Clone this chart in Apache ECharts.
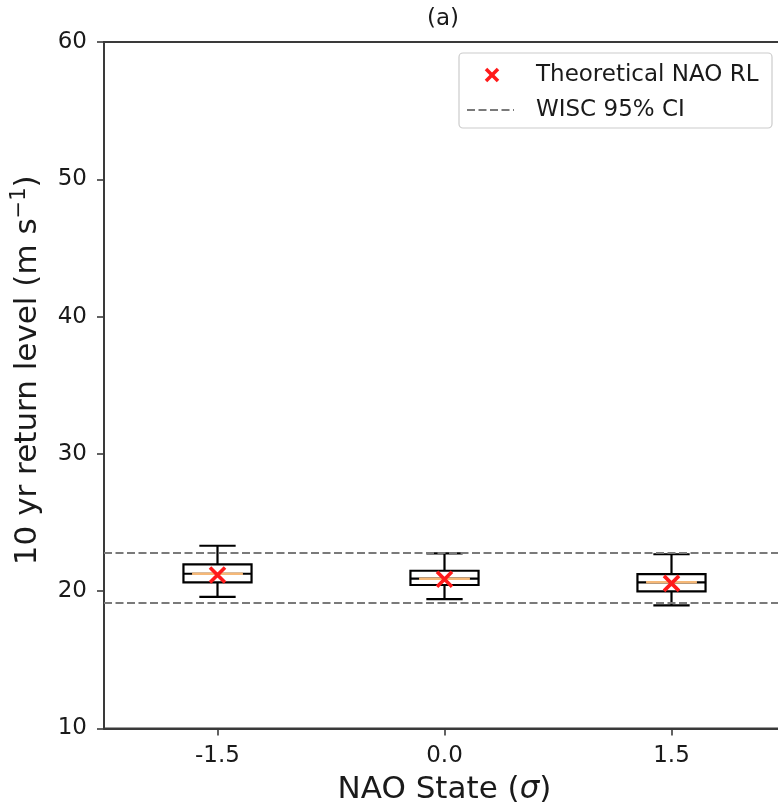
<!DOCTYPE html>
<html>
<head>
<meta charset="utf-8">
<script src="https://cdn.jsdelivr.net/npm/echarts@6/dist/echarts.min.js"></script>
<style>
  html, body { margin: 0; padding: 0; background: #fff; }
  #chart { width: 778px; height: 810px; }
</style>
</head>
<body>
<div id="chart"></div>
<script>
// NAO states on the x axis
const categories = ['-1.5', '0.0', '1.5'];

// Box-plot statistics of the 10 yr return level (m s^-1) per NAO state
const whiskerLow  = [19.58, 19.43, 18.97];
const quartile1   = [20.65, 20.45, 19.99];
const medians     = [21.27, 20.91, 20.65];
const quartile3   = [21.96, 21.49, 21.25];
const whiskerHigh = [23.31, 22.76, 22.69];

// Theoretical return level for each NAO state
const theoreticalRL = [21.18, 20.87, 20.57];

// WISC 95% confidence interval bounds
const wiscCI = [19.14, 22.78];

// Y axis ticks
const yTicks = [10, 20, 30, 40, 50, 60];

const FONT = 'DejaVu Sans';
const TEXT = '#1a1a1a';
const AXIS = '#3a3a3a';

const boxData = categories.map((c, i) => [i, whiskerLow[i], quartile1[i], medians[i], quartile3[i], whiskerHigh[i]]);

function renderBox(params, api) {
  const idx = api.value(0);
  const band = api.size([1, 0])[0];
  const cx = api.coord([idx, 0])[0];
  const yLow = api.coord([idx, api.value(1)])[1];
  const yQ1 = api.coord([idx, api.value(2)])[1];
  const yMed = api.coord([idx, api.value(3)])[1];
  const yQ3 = api.coord([idx, api.value(4)])[1];
  const yHigh = api.coord([idx, api.value(5)])[1];
  const bw = band * 0.30;
  const cw = band * 0.16;
  const stroke = { stroke: '#000', lineWidth: 2.2, fill: null };
  return {
    type: 'group',
    children: [
      { type: 'line', shape: { x1: cx, y1: yQ3, x2: cx, y2: yHigh }, style: stroke },
      { type: 'line', shape: { x1: cx, y1: yQ1, x2: cx, y2: yLow }, style: stroke },
      { type: 'line', shape: { x1: cx - cw / 2, y1: yHigh, x2: cx + cw / 2, y2: yHigh }, style: stroke },
      { type: 'line', shape: { x1: cx - cw / 2, y1: yLow, x2: cx + cw / 2, y2: yLow }, style: stroke },
      { type: 'rect', shape: { x: cx - bw / 2, y: yQ3, width: bw, height: yQ1 - yQ3 }, style: { stroke: '#000', lineWidth: 2.2, fill: 'rgba(255,255,255,0)' } },
      { type: 'line', shape: { x1: cx - bw / 2, y1: yMed, x2: cx + bw / 2, y2: yMed }, style: { stroke: '#000', lineWidth: 2.2 } },
      { type: 'line', shape: { x1: cx - cw * 0.7, y1: yMed, x2: cx + cw * 0.7, y2: yMed }, style: { stroke: '#f5b878', lineWidth: 2.4 } }
    ]
  };
}

const chart = echarts.init(document.getElementById('chart'), null, { renderer: 'canvas' });

const option = {
  animation: false,
  backgroundColor: '#fff',
  grid: {
    left: 104, top: 42, width: 681, height: 686.5,
    outerBoundsMode: 'none',
    containLabel: false,
    show: true, borderColor: AXIS, borderWidth: 2, backgroundColor: 'transparent'
  },
  xAxis: {
    type: 'category',
    data: categories,
    boundaryGap: true,
    axisLine: { show: true, lineStyle: { color: AXIS, width: 2 } },
    axisTick: { show: true, alignWithLabel: true, length: 7, lineStyle: { color: AXIS, width: 1.6 } },
    axisLabel: { fontFamily: FONT, fontSize: 23, color: TEXT, margin: 16 },
    splitLine: { show: false },
    name: '{t|NAO State (}{i|σ}{t|)}',
    nameLocation: 'middle',
    nameGap: 46,
    nameTextStyle: {
      rich: {
        t: { fontFamily: FONT, fontSize: 31, color: TEXT },
        i: { fontFamily: FONT, fontSize: 31, color: TEXT, fontStyle: 'italic' }
      }
    }
  },
  yAxis: {
    type: 'value',
    min: yTicks[0],
    max: yTicks[yTicks.length - 1],
    interval: 10,
    axisLine: { show: true, lineStyle: { color: AXIS, width: 2 } },
    axisTick: { show: true, length: 7, lineStyle: { color: AXIS, width: 1.6 } },
    axisLabel: { fontFamily: FONT, fontSize: 23, color: TEXT, margin: 17 },
    splitLine: { show: false },
    name: '{t|10 yr return level (m s}{s|−1}{t|)}',
    nameLocation: 'middle',
    nameRotate: 90,
    nameGap: 57,
    nameTextStyle: {
      padding: [0, 0, 0, 30],
      rich: {
        t: { fontFamily: FONT, fontSize: 31, color: TEXT, lineHeight: 38 },
        s: { fontFamily: FONT, fontSize: 21, color: TEXT, lineHeight: 22, verticalAlign: 'top' }
      }
    }
  },
  series: [
    {
      name: 'WISC 95% CI',
      type: 'line',
      data: [],
      symbol: 'none',
      markLine: {
        silent: true,
        symbol: ['none', 'none'],
        label: { show: false },
        lineStyle: { color: '#7a7a7a', width: 2, type: [8, 3.5] },
        data: wiscCI.map(v => ({ yAxis: v }))
      },
      z: 1
    },
    {
      name: 'Box',
      type: 'custom',
      data: boxData,
      encode: { x: 0, y: [1, 2, 3, 4, 5] },
      renderItem: renderBox,
      z: 2
    },
    {
      name: 'Theoretical NAO RL',
      type: 'scatter',
      data: theoreticalRL,
      symbol: 'path://M0,0L10,10M10,0L0,10',
      symbolSize: 15,
      itemStyle: { color: 'rgba(0,0,0,0)', borderColor: '#ff1a1a', borderWidth: 3.6, opacity: 1 },
      z: 5
    }
  ],
  graphic: [
    {
      type: 'text', x: 443, y: 19,
      style: { text: '(a)', fontFamily: FONT, fontSize: 23, fill: TEXT, align: 'center', verticalAlign: 'middle' }
    },
    {
      type: 'group', x: 0, y: 0, z: 10,
      children: [
        { type: 'rect', shape: { x: 459, y: 53, width: 313, height: 75, r: 4 }, style: { fill: 'rgba(255,255,255,0.85)', stroke: '#cccccc', lineWidth: 1.2 } },
        { type: 'line', shape: { x1: 486, y1: 69, x2: 498, y2: 81 }, style: { stroke: '#ff1a1a', lineWidth: 3.5 } },
        { type: 'line', shape: { x1: 498, y1: 69, x2: 486, y2: 81 }, style: { stroke: '#ff1a1a', lineWidth: 3.5 } },
        { type: 'line', shape: { x1: 467, y1: 110, x2: 514, y2: 110 }, style: { stroke: '#7a7a7a', lineWidth: 2, lineDash: [8, 3.5] } },
        { type: 'text', x: 536, y: 75, style: { text: 'Theoretical NAO RL', fontFamily: FONT, fontSize: 23, fill: TEXT, verticalAlign: 'middle' } },
        { type: 'text', x: 536, y: 110, style: { text: 'WISC 95% CI', fontFamily: FONT, fontSize: 23, fill: TEXT, verticalAlign: 'middle' } }
      ]
    }
  ]
};

chart.setOption(option);
</script>
</body>
</html>
